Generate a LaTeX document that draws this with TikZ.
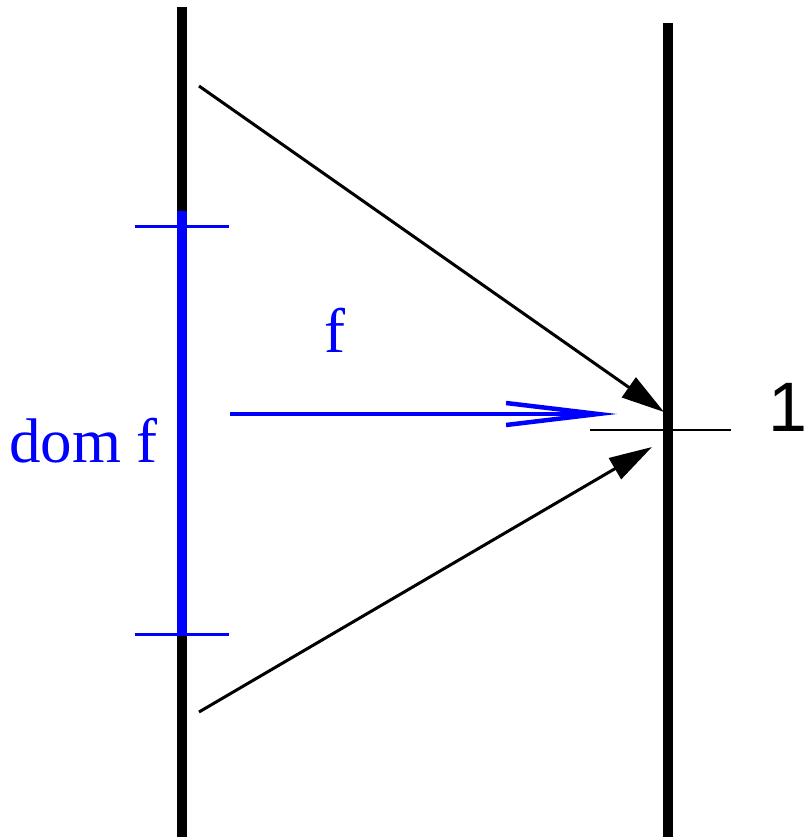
\documentclass[tikz,border=0pt]{standalone}
\usepackage{fontspec}
\setmainfont{Liberation Serif}
\newfontfamily\numfont{Liberation Sans}
\usetikzlibrary{arrows.meta}
\definecolor{myblue}{RGB}{0,0,255}
\tikzset{
  axis/.style={line width=10.5pt, line cap=butt},
  domseg/.style={line width=10.5pt, myblue, line cap=butt},
  bluetick/.style={line width=3pt, myblue},
  blacktick/.style={line width=2.6pt, black},
  maparrow/.style={line width=3pt, -{Triangle[length=43pt,width=24pt]}},
  farrow/.style={line width=4.5pt, myblue, -{Straight Barb[length=92pt,width=22pt]}},
  lbl/.style={inner sep=0pt, anchor=base west},
}
\begin{document}
\begin{tikzpicture}[x=1pt,y=-1pt]
\useasboundingbox (0,0) rectangle (807,837);
% axes
\coordinate (LT) at (182,7);
\coordinate (LB) at (182,837);
\coordinate (RT) at (668,23);
\coordinate (RB) at (668,837);
\draw[axis] (LT) -- (LB);
\draw[axis] (RT) -- (RB);
% domain
\coordinate (D1) at (182,211);
\coordinate (D2) at (182,633);
\draw[domseg] (D1) -- (D2);
\coordinate (T1a) at (135,226);
\coordinate (T1b) at (229,226);
\coordinate (T2a) at (135,634);
\coordinate (T2b) at (229,634);
\draw[bluetick] (T1a) -- (T1b);
\draw[bluetick] (T2a) -- (T2b);
% tick at 1
\coordinate (Ka) at (590,430);
\coordinate (Kb) at (731,430);
\draw[blacktick] (Ka) -- (Kb);
% arrows
\coordinate (A1s) at (199,86);
\coordinate (A1e) at (664,412);
\coordinate (A2s) at (199,712);
\coordinate (A2e) at (652,447);
\draw[maparrow] (A1s) -- (A1e);
\draw[maparrow] (A2s) -- (A2e);
\coordinate (Fs) at (230,414);
\coordinate (Fe) at (617,414);
\draw[farrow] (Fs) -- (Fe);
% labels
\node[lbl, text=myblue, font=\fontsize{63}{63}\selectfont] (dom) at (9,462) {dom f};
\node[lbl, text=myblue, font=\fontsize{63}{63}\selectfont] (flab) at (324,352) {f};
\node[lbl, font=\numfont\fontsize{70}{70}\selectfont] (one) at (768,431) {\makebox[30pt][l]{1}};
\end{tikzpicture}
\end{document}
